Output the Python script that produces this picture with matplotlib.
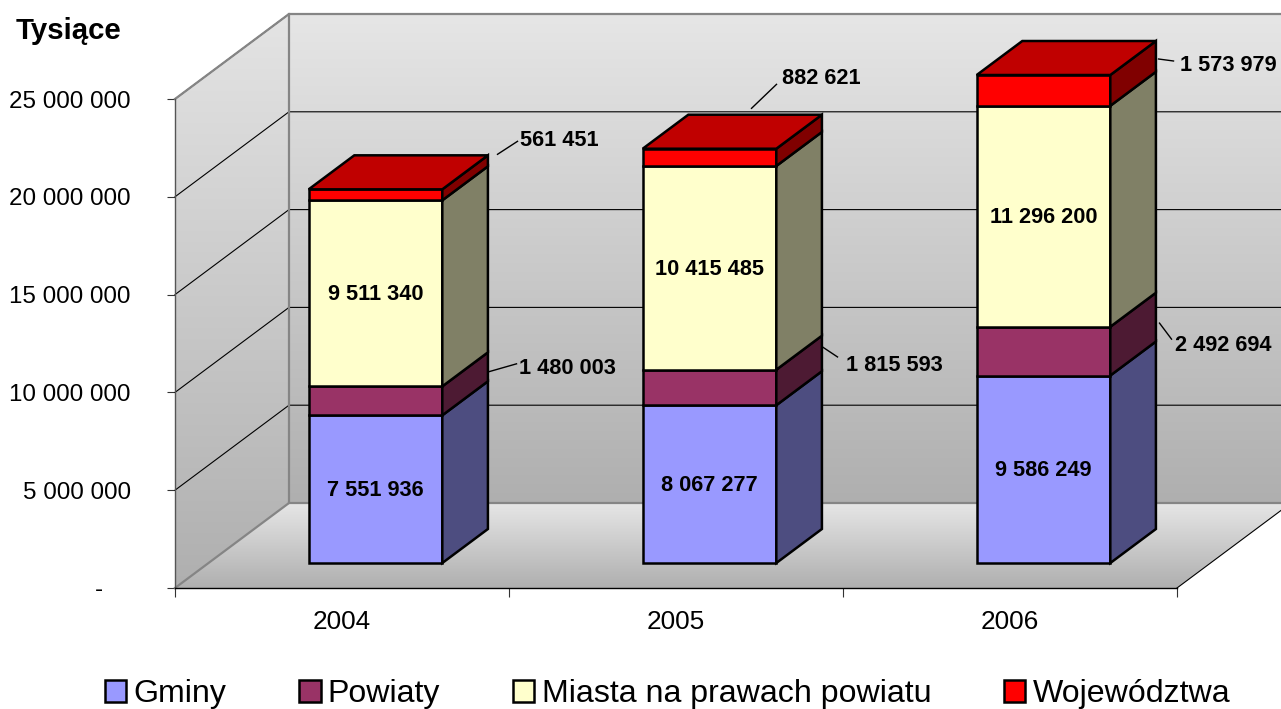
import matplotlib
matplotlib.use('Agg')
import matplotlib.pyplot as plt
from matplotlib.patches import Patch, Polygon
from matplotlib.transforms import IdentityTransform
import numpy as np

plt.rcParams['font.family'] = ['Liberation Sans', 'DejaVu Sans']

years = ['2004', '2005', '2006']
series_names = ['Gminy', 'Powiaty', 'Miasta na prawach powiatu', 'Województwa']
gminy = [7551936, 8067277, 9586249]
powiaty = [1480003, 1815593, 2492694]
miasta = [9511340, 10415485, 11296200]
wojewodztwa = [561451, 882621, 1573979]
series = [gminy, powiaty, miasta, wojewodztwa]

front_colors = ['#9999FF', '#993366', '#FFFFCC', '#FF0000']
side_colors = ['#4D4D80', '#4D1A33', '#808066', '#800000']
top_color = '#C00000'

y_ticks = [0, 5000000, 10000000, 15000000, 20000000, 25000000]
y_labels = ['-    ', '5 000 000', '10 000 000', '15 000 000', '20 000 000', '25 000 000']

# label offsets in pixels from the middle of the front face, (series, year): label, line start, line end
outside = {
    (3, 0): ((183.5, 54), (122, 40.5), (142, 53.5)),
    (1, 0): ((191.5, 32.5), (113, 29), (141, 37)),
    (3, 1): ((111.5, 78.5), (42, 49), (67, 73)),
    (1, 1): ((185, 22), (113, 40.5), (128, 30.5)),
    (3, 2): ((184.5, 25), (115, 31.4), (130, 29.4)),
    (1, 2): ((179.5, 5.5), (116, 28), (128, 12)),
}

fig = plt.figure(figsize=(12.81, 7.09), dpi=100)
ax = fig.add_axes([175 / 1281, 1 - 588 / 709, 1002 / 1281, 489 / 709])

# chart depth in data units
px_x = 3 / 1002
px_y = 25000000 / 489
depth_x = 114 * px_x
depth_y = 85 * px_y
bar_start = 0.294
bar_depth = 0.4
bar_width = 0.4
top = 25000000


def gradient(points, y0, y1, light='#E6E6E6', dark='#AFAFAF'):
    c0 = np.array(matplotlib.colors.to_rgb(dark))
    c1 = np.array(matplotlib.colors.to_rgb(light))
    t = np.linspace(0, 1, 256)[:, None, None]
    img = c0 * (1 - t) + c1 * t
    im = ax.imshow(img, origin='lower', extent=[-1, 5, y0, y1], aspect='auto', zorder=1,
                   interpolation='bilinear')
    im.set_clip_path(Polygon(points, closed=True, transform=ax.transData))
    im.set_clip_box(fig.bbox)


# walls and floor
gradient([(depth_x, depth_y), (3 + depth_x, depth_y), (3 + depth_x, top + depth_y), (depth_x, top + depth_y)],
         depth_y, top + depth_y)
gradient([(0, 0), (depth_x, depth_y), (depth_x, top + depth_y), (0, top)], 0, top + depth_y, light='#E4E4E4')
gradient([(0, 0), (3, 0), (3 + depth_x, depth_y), (depth_x, depth_y)], 0, depth_y)
ax.set_xlim(0, 3)
ax.set_ylim(0, 25000000)

# grid lines
for v in y_ticks[1:]:
    ax.plot([0, depth_x, 3 + depth_x], [v, v + depth_y, v + depth_y], color='black', lw=0.8,
            zorder=2, clip_on=False)
grey = '#858585'
ax.plot([0, depth_x, depth_x], [0, depth_y, top + depth_y], color=grey, lw=1.6, zorder=2, clip_on=False)
ax.plot([depth_x, 3 + depth_x], [depth_y, depth_y], color=grey, lw=1.6, zorder=2, clip_on=False)
ax.plot([0, depth_x, 3 + depth_x], [top, top + depth_y, top + depth_y], color=grey, lw=1.6, zorder=2,
        clip_on=False)
ax.plot([3, 3 + depth_x], [0, depth_y], color='black', lw=0.8, zorder=2, clip_on=False)

# bars
offset_x = bar_start * depth_x
offset_y = bar_start * depth_y
side_x = bar_depth * depth_x
side_y = bar_depth * depth_y
centers = np.arange(3) + 0.5 + offset_x
bottoms = np.zeros(3)
edge = dict(edgecolor='black', linewidth=1.8, joinstyle='miter', clip_on=False, zorder=3)
label_style = dict(ha='center', va='center', fontsize=15.7, fontweight='bold', color='black', zorder=5,
                   textcoords='offset pixels', annotation_clip=False)

for s, values in enumerate(series):
    values = np.array(values)
    ax.bar(centers, values, bar_width, bottom=bottoms + offset_y, color=front_colors[s], **edge)
    for i in range(3):
        x = centers[i] + bar_width / 2
        y0 = bottoms[i] + offset_y
        y1 = y0 + values[i]
        ax.add_patch(Polygon([(x, y0), (x + side_x, y0 + side_y), (x + side_x, y1 + side_y), (x, y1)],
                             facecolor=side_colors[s], **edge))
        if s == 3:
            xl = centers[i] - bar_width / 2
            ax.add_patch(Polygon([(xl, y1), (x, y1), (x + side_x, y1 + side_y), (xl + side_x, y1 + side_y)],
                                 facecolor=top_color, **edge))
        mid = y0 + values[i] / 2
        text = f'{values[i]:,}'.replace(',', ' ')
        if (s, i) in outside:
            lab, start, end = outside[(s, i)]
            ax.annotate(text, (centers[i], mid), xytext=lab, **label_style)
            pts = ax.transData.transform((centers[i], mid))
            ax.plot([pts[0] + start[0], pts[0] + end[0]], [pts[1] + start[1], pts[1] + end[1]], color='black',
                    lw=1.0, transform=IdentityTransform(), zorder=4, clip_on=False)
        else:
            ax.annotate(text, (centers[i], mid), xytext=(0, -1.5), **label_style)
    bottoms = bottoms + values

# axes
for name in ['top', 'right']:
    ax.spines[name].set_visible(False)
ax.spines['left'].set_color('#555555')
ax.spines['left'].set_linewidth(1.0)
ax.spines['bottom'].set_linewidth(1.0)
for sp in ax.spines.values():
    sp.set_zorder(2.5)
ax.set_yticks(y_ticks)
ax.set_yticklabels(y_labels, fontsize=17.4)
ax.tick_params(axis='y', length=6, width=0.8, color='#333333', pad=26)
ax.set_xticks([0, 1, 2, 3])
ax.set_xticklabels([])
ax.tick_params(axis='x', which='major', length=6.5, width=0.8, color='#333333')
ax.set_xticks([0.5, 1.5, 2.5], minor=True)
ax.set_xticklabels(years, minor=True, fontsize=18.8)
ax.tick_params(axis='x', which='minor', length=0, pad=16)

fig.text(69 / 1281, 1 - 31 / 709, 'Tysiące', ha='center', va='center', fontsize=21.2, fontweight='bold')

handles = [Patch(facecolor=c, edgecolor='black', linewidth=1.8) for c in front_colors]
fig.legend(handles, series_names, ncol=4, frameon=False, fontsize=23.1, loc='center left',
           bbox_to_anchor=(105 / 1281, 1 - 694 / 709), handlelength=0.66, handleheight=0.66,
           handletextpad=0.225, columnspacing=2.275, borderpad=0, borderaxespad=0)

fig.savefig('out.png', dpi=100)
